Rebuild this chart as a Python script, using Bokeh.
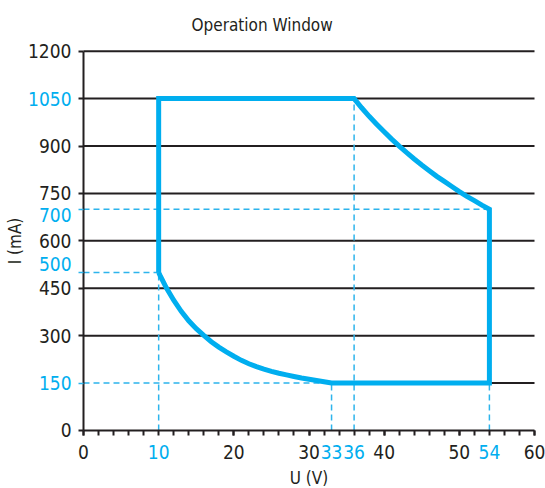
from bokeh.plotting import figure
from bokeh.models import FixedTicker, LinearAxis, Range1d
from bokeh.core.properties import value
from bokeh.embed import file_html
from bokeh.resources import INLINE

# ---- data ----
U_ticks_black = [0, 20, 30, 40, 50, 60]
U_ticks_blue = [10, 33, 36, 54]
U_minor = [0, 2, 4, 6, 8, 10, 12, 14, 16, 18, 20, 22, 24, 26, 28, 30,
           32, 34, 36, 38, 40, 42, 44, 46, 48, 50, 52, 54, 56, 58, 60]
I_ticks_black = [0, 300, 450, 600, 750, 900, 1200]
I_ticks_blue = [150, 500, 700, 1050]
I_grid = [300, 450, 600, 750, 900, 1050, 1200]

# upper constant-power curve
U_hi = [36, 37, 38, 39, 40, 41, 42, 43, 44, 45, 46, 47, 48, 49, 50, 51, 52, 53, 54]
I_hi = [1050, 1021, 994, 969, 945, 922, 900, 879, 859, 840, 822, 804, 788, 772,
        756, 741, 727, 713, 700]
# lower constant-power curve
U_lo = [33, 32, 31, 30, 29, 28, 27, 26, 25, 24, 23, 22, 21, 20, 19, 18, 17, 16,
        15, 14, 13, 12, 11, 10.5, 10.2, 10]
I_lo = [150, 154, 158, 162, 166, 171, 176, 181, 187, 194, 202, 211, 222, 235,
        249, 264, 281, 301, 322, 347, 377, 412, 452, 476, 490, 500]

# dashed guide lines
guide_I = [700, 500, 150]
guide_I_to_U = [54, 10, 33]
guide_U = [10, 33, 36, 54]
guide_U_to_I = [500, 150, 1050, 700]

U_MIN, U_MAX = 0, 60
I_MIN, I_MAX = 0, 1200

# style: small vertical nudges (px) of the blue current labels, as in the original
blue_label_nudge = [0, -8, 6, 0]

BLUE = "#00AEEF"
DASH_BLUE = "#2DB4EC"
BLACK = "#231F20"
FONT = "DejaVu Sans Condensed"

p = figure(width=545, height=488,
           x_range=Range1d(-11.042, 61.463), y_range=Range1d(-183.5, 1246.5),
           output_backend="svg", toolbar_location=None,
           min_border_left=0, min_border_right=0, min_border_top=36, min_border_bottom=0)
p.outline_line_color = None
p.xgrid.visible = False
p.ygrid.visible = False

p.title.text = "Operation Window"
p.title.align = "left"
p.title.offset = 191
p.title.standoff = 4
p.title.text_font = FONT
p.title.text_font_size = "17px"
p.title.text_font_style = "normal"
p.title.text_color = BLACK


def style_axis(ax, color, line=True):
    ax.fixed_location = 0
    ax.axis_line_color = BLACK if line else None
    ax.axis_line_width = 2
    ax.major_tick_line_color = BLACK if line else DASH_BLUE
    ax.major_tick_line_width = 2 if line else 1.5
    ax.major_tick_in = 0
    ax.major_tick_out = 5
    ax.minor_tick_line_color = BLACK if line else None
    ax.minor_tick_line_width = 2
    ax.minor_tick_in = 0
    ax.minor_tick_out = 5
    ax.major_label_text_font = FONT
    ax.major_label_text_font_size = "19px"
    ax.major_label_text_color = color
    ax.axis_label_text_font = FONT
    ax.axis_label_text_font_size = "17px"
    ax.axis_label_text_font_style = "normal"
    ax.axis_label_text_color = BLACK


xa = p.xaxis[0]
ya = p.yaxis[0]
style_axis(xa, BLACK)
style_axis(ya, BLACK)
xa.bounds = (U_MIN, U_MAX)
ya.bounds = (I_MIN, I_MAX)
xa.ticker = FixedTicker(ticks=U_ticks_black, minor_ticks=U_minor)
ya.ticker = FixedTicker(ticks=I_ticks_black + [I_ticks_blue[-1]])
ya.major_label_overrides = {I_ticks_blue[-1]: ""}
xa.major_label_standoff = 10
ya.major_label_standoff = 7
xa.axis_label = "U (V)"
ya.axis_label = "I (mA)"
xa.axis_label_standoff = 5
ya.axis_label_standoff = 0

# blue voltage labels
xb = LinearAxis(ticker=FixedTicker(ticks=U_ticks_blue))
style_axis(xb, BLUE, line=False)
xb.major_tick_line_color = None
xb.bounds = (U_MIN, U_MAX)
xb.major_label_standoff = 10
p.add_layout(xb, "below")
# blue current ticks (labels drawn below as text)
yb = LinearAxis(ticker=FixedTicker(ticks=I_ticks_blue[:-1]))
style_axis(yb, BLUE, line=False)
yb.bounds = (I_MIN, I_MAX)
yb.major_label_overrides = {v: "" for v in I_ticks_blue[:-1]}
p.add_layout(yb, "left")

# horizontal grid lines inside the plot area
p.segment(x0=[U_MIN] * len(I_grid), y0=I_grid, x1=[U_MAX] * len(I_grid), y1=I_grid,
          line_color=BLACK, line_width=2)
p.segment(x0=[guide_I_to_U[2]], y0=[guide_I[2]], x1=[U_MAX], y1=[guide_I[2]],
          line_color=BLACK, line_width=2)

# dashed guides
p.segment(x0=[U_MIN] * len(guide_I), y0=guide_I, x1=guide_I_to_U, y1=guide_I,
          line_color=DASH_BLUE, line_width=1.5, line_dash="6 4")
p.segment(x0=guide_U, y0=[I_MIN] * len(guide_U), x1=guide_U, y1=guide_U_to_I,
          line_color=DASH_BLUE, line_width=1.5, line_dash="6 4")

# operating window boundary
path_U = [10, 10] + U_hi + [54] + U_lo
path_I = [500, 1050] + I_hi + [150] + I_lo
p.line(path_U, path_I, line_color=BLUE, line_width=5, line_join="miter")

# blue current labels
p.text(x=[U_MIN] * len(I_ticks_blue), y=I_ticks_blue, text=[str(v) for v in I_ticks_blue],
       x_offset=-12, y_offset=blue_label_nudge,
       text_align="right", text_baseline="middle",
       text_font=value(FONT), text_font_size="19px", text_color=BLUE)

open("out.html", "w").write(file_html(p, INLINE))
